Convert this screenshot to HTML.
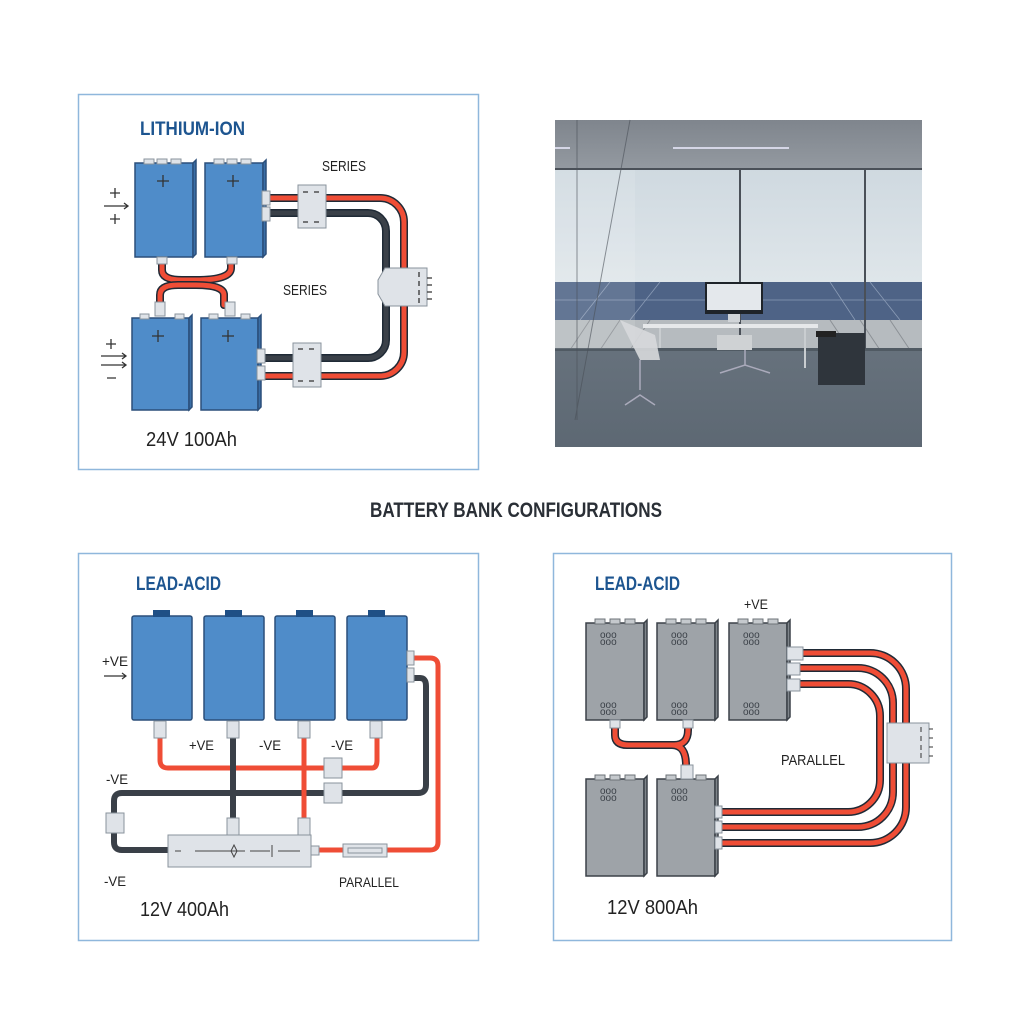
<!DOCTYPE html>
<html><head><meta charset="utf-8"><style>
html,body{margin:0;padding:0;background:#fff}
svg{display:block}
text{font-family:"Liberation Sans",sans-serif}
</style></head><body>
<svg width="1024" height="1024" viewBox="0 0 1024 1024" xmlns="http://www.w3.org/2000/svg">
<defs>
<linearGradient id="sky" x1="0" y1="0" x2="0" y2="1"><stop offset="0" stop-color="#cfd9e0"/><stop offset="1" stop-color="#dfe6ea"/></linearGradient>
<linearGradient id="floor" x1="0" y1="0" x2="0" y2="1"><stop offset="0" stop-color="#7d8893"/><stop offset="1" stop-color="#5d6873"/></linearGradient>
<linearGradient id="ceil" x1="0" y1="0" x2="0" y2="1"><stop offset="0" stop-color="#7f858d"/><stop offset="1" stop-color="#949aa1"/></linearGradient>
</defs>
<rect width="1024" height="1024" fill="#fff"/>

<rect x="78.5" y="94.5" width="400" height="375" fill="#fff" stroke="#8fb7dc" stroke-width="1.5"/>
<rect x="78.5" y="553.5" width="400" height="387" fill="#fff" stroke="#8fb7dc" stroke-width="1.5"/>
<rect x="553.5" y="553.5" width="398" height="387" fill="#fff" stroke="#8fb7dc" stroke-width="1.5"/>

<!-- ========== LITHIUM-ION ========== -->
<text x="140" y="135" font-size="19" font-weight="bold" fill="#1d5590" textLength="105" lengthAdjust="spacingAndGlyphs">LITHIUM-ION</text>
<text x="322" y="171" font-size="15" fill="#222" textLength="44" lengthAdjust="spacingAndGlyphs">SERIES</text>
<text x="283" y="295" font-size="15" fill="#222" textLength="44" lengthAdjust="spacingAndGlyphs">SERIES</text>
<text x="146" y="446" font-size="20" fill="#222" textLength="91" lengthAdjust="spacingAndGlyphs">24V 100Ah</text>
<g stroke="#333" stroke-width="1.3" fill="none">
<path d="M110 193h10M115 188v10M110 219h10M115 214v10"/>
<path d="M104 206h24M124 203l4 3-4 3"/>
<path d="M106 344h10M111 339v10M107 378h9"/>
<path d="M101 356h25M122 353l4 3-4 3M101 365h25M122 362l4 3-4 3"/>
</g>
<g fill="none" stroke-linecap="round">
<path d="M265 198H380a24 24 0 0 1 24 24V352a24 24 0 0 1-24 24H265" stroke="#1f2a36" stroke-width="8"/>
<path d="M265 198H380a24 24 0 0 1 24 24V352a24 24 0 0 1-24 24H265" stroke="#ef4d36" stroke-width="5"/>
<path d="M265 213H368a18 18 0 0 1 18 18V340a18 18 0 0 1-18 18H265" stroke="#1f2a36" stroke-width="8"/>
<path d="M265 213H368a18 18 0 0 1 18 18V340a18 18 0 0 1-18 18H265" stroke="#3a4048" stroke-width="5"/>
<path d="M162 262v8q0 10 20 10h14q35 0 35 -12v-8" stroke="#1f2a36" stroke-width="8"/>
<path d="M162 262v8q0 10 20 10h14q35 0 35 -12v-8" stroke="#ef4d36" stroke-width="5"/>
<path d="M160 305v-10q0-10 18-10h18q28 0 28 10v10" stroke="#1f2a36" stroke-width="8"/>
<path d="M160 305v-10q0-10 18-10h18q28 0 28 10v10" stroke="#ef4d36" stroke-width="5"/>
</g>
<g stroke="#2b4f7a" stroke-width="1.5">
<rect x="135" y="163" width="58" height="94" fill="#4f8cc9"/>
<path d="M193 163l3-3v94l-3 3z" fill="#3a6ea6"/>
<rect x="205" y="163" width="58" height="94" fill="#4f8cc9"/>
<path d="M263 163l3-3v94l-3 3z" fill="#3a6ea6"/>
<rect x="132" y="318" width="57" height="92" fill="#4f8cc9"/>
<path d="M189 318l3-3v92l-3 3z" fill="#3a6ea6"/>
<rect x="201" y="318" width="57" height="92" fill="#4f8cc9"/>
<path d="M258 318l3-3v92l-3 3z" fill="#3a6ea6"/>
</g>
<g fill="#dfe3e8" stroke="#8a939c" stroke-width="1">
<rect x="144" y="159" width="10" height="5"/><rect x="157" y="159" width="10" height="5"/><rect x="171" y="159" width="10" height="5"/>
<rect x="214" y="159" width="10" height="5"/><rect x="227" y="159" width="10" height="5"/><rect x="241" y="159" width="10" height="5"/>
<rect x="140" y="314" width="9" height="5"/><rect x="175" y="314" width="9" height="5"/>
<rect x="209" y="314" width="9" height="5"/><rect x="241" y="314" width="9" height="5"/>
<rect x="157" y="257" width="10" height="7"/><rect x="227" y="257" width="10" height="7"/>
<rect x="155" y="302" width="10" height="14"/><rect x="225" y="302" width="10" height="14"/>
<rect x="262" y="191" width="8" height="14"/><rect x="262" y="207" width="8" height="14"/>
<rect x="257" y="349" width="8" height="14"/><rect x="257" y="366" width="8" height="14"/>
<rect x="298" y="185" width="28" height="43"/>
<rect x="293" y="343" width="28" height="44"/>
<path d="M385 268h42v38h-42l-7-12v-14z"/>
</g>
<g stroke="#333" stroke-width="1.3">
<path d="M157 181h12M163 175v12M227 181h12M233 175v12M152 336h12M158 330v12M222 336h12M228 330v12"/>
<path d="M303 192h5M314 192h5M303 222h5M314 222h5M298 349h5M309 349h5M298 381h5M309 381h5"/>
<path d="M419 272v5M419 281v5M419 290v5M419 298v5M427 278h5M427 285h5M427 292h5M427 299h5"/>
</g>

<!-- ========== PHOTO ========== -->
<rect x="555" y="120" width="367" height="327" fill="url(#floor)"/>
<rect x="555" y="120" width="367" height="50" fill="url(#ceil)"/>
<rect x="555" y="169" width="367" height="114" fill="url(#sky)"/>
<path d="M555 282H922V320H555z" fill="#4e6386"/>
<g stroke="#8a9bb5" stroke-width="0.8"><path d="M555 300H922M610 282l-30 38M660 282l-30 38M830 282l25 38M870 282l30 38"/></g>
<rect x="555" y="320" width="367" height="30" fill="#b6bbbf"/>
<g stroke="#8c9196" stroke-width="1"><path d="M570 350l20-30M600 350l20-30M630 350l20-30M830 320l20 30M860 320l20 30M890 320l20 30"/></g>
<rect x="555" y="348" width="367" height="3" fill="#505a63"/>
<rect x="555" y="169" width="80" height="180" fill="#ffffff" opacity="0.12"/>
<g stroke="#4a5058" stroke-width="2"><path d="M740 169v180M865 169v180M555 169h367"/><path d="M577 120v300M630 120l-55 300" stroke-width="1" opacity="0.6"/></g>
<path d="M673 148h116M555 148h15" stroke="#eef" stroke-width="1.5"/>
<rect x="705" y="282" width="58" height="32" fill="#1e2329"/><rect x="707" y="284" width="54" height="26" fill="#e4e8ec"/>
<rect x="728" y="314" width="12" height="8" fill="#d0d4d8"/>
<path d="M643 324h175v4H643z" fill="#e6e8ea"/>
<path d="M805 328v40M660 328v20" stroke="#c9cdd0" stroke-width="2"/>
<rect x="818" y="333" width="47" height="52" fill="#2f353c"/>
<rect x="816" y="331" width="20" height="6" fill="#222"/>
<path d="M620 320l20 40h20l-5-25z" fill="#d7d9db" opacity="0.9"/>
<path d="M640 360v30M625 405l15-10 15 10M745 350v15M720 373l25-8 25 8" stroke="#aab" stroke-width="1.5" fill="none"/>
<rect x="717" y="335" width="35" height="15" fill="#cfd2d4"/>

<!-- ========== TITLE ========== -->
<text x="370" y="517" font-size="21" font-weight="bold" fill="#2a2f36" textLength="292" lengthAdjust="spacingAndGlyphs">BATTERY BANK CONFIGURATIONS</text>

<!-- ========== LEAD-ACID LEFT ========== -->
<text x="136" y="590" font-size="19" font-weight="bold" fill="#1d5590" textLength="85" lengthAdjust="spacingAndGlyphs">LEAD-ACID</text>
<text x="102" y="666" font-size="14" fill="#222" textLength="26" lengthAdjust="spacingAndGlyphs">+VE</text>
<path d="M104 676h22M122 673l4 3-4 3" stroke="#333" stroke-width="1.2" fill="none"/>
<text x="189" y="750" font-size="14" fill="#222" textLength="25" lengthAdjust="spacingAndGlyphs">+VE</text>
<text x="259" y="750" font-size="14" fill="#222" textLength="22" lengthAdjust="spacingAndGlyphs">-VE</text>
<text x="331" y="750" font-size="14" fill="#222" textLength="22" lengthAdjust="spacingAndGlyphs">-VE</text>
<text x="106" y="784" font-size="14" fill="#222" textLength="22" lengthAdjust="spacingAndGlyphs">-VE</text>
<text x="104" y="886" font-size="14" fill="#222" textLength="22" lengthAdjust="spacingAndGlyphs">-VE</text>
<text x="339" y="887" font-size="14" fill="#222" textLength="60" lengthAdjust="spacingAndGlyphs">PARALLEL</text>
<text x="140" y="916" font-size="20" fill="#222" textLength="89" lengthAdjust="spacingAndGlyphs">12V 400Ah</text>
<g fill="none">
<path d="M160 738v22q0 8 8 8H372q5 0 5-8v-22" stroke="#ef4d36" stroke-width="5"/>
<path d="M412 678h8q6 0 6 8V785q0 8-8 8H122q-8 0-8 8V842q0 8 8 8H170" stroke="#3a4048" stroke-width="6"/>
<path d="M233 738v100" stroke="#3a4048" stroke-width="6"/>
<path d="M304 738v100" stroke="#ef4d36" stroke-width="5"/>
<path d="M412 658h18q8 0 8 8V842q0 8-8 8H312" stroke="#ef4d36" stroke-width="5"/>
</g>
<g stroke="#2b4f7a" stroke-width="1.5" fill="#4f8cc9">
<rect x="132" y="616" width="60" height="104" rx="2"/>
<rect x="204" y="616" width="60" height="104" rx="2"/>
<rect x="275" y="616" width="60" height="104" rx="2"/>
<rect x="347" y="616" width="60" height="104" rx="2"/>
</g>
<g fill="#1f4f85"><rect x="153" y="610" width="17" height="7"/><rect x="225" y="610" width="17" height="7"/><rect x="296" y="610" width="17" height="7"/><rect x="368" y="610" width="17" height="7"/></g>
<g fill="#dfe3e8" stroke="#8a939c" stroke-width="1">
<rect x="154" y="721" width="12" height="17"/><rect x="227" y="721" width="12" height="17"/><rect x="298" y="721" width="12" height="17"/><rect x="370" y="721" width="12" height="17"/>
<rect x="407" y="651" width="7" height="14"/><rect x="407" y="668" width="7" height="14"/>
<rect x="324" y="758" width="18" height="20"/><rect x="324" y="783" width="18" height="20"/>
<rect x="106" y="813" width="18" height="20"/>
<rect x="227" y="818" width="12" height="18"/><rect x="298" y="818" width="12" height="18"/>
<rect x="168" y="835" width="143" height="32"/>
<rect x="311" y="846" width="8" height="9"/>
<rect x="343" y="844" width="44" height="13"/><rect x="348" y="848" width="34" height="5"/>
</g>
<path d="M175 851h6M195 851h50M250 851h20M278 851h22M272 845v12M234 845l3 6-3 6-3-6z" stroke="#444" stroke-width="1" fill="none"/>

<!-- ========== LEAD-ACID RIGHT ========== -->
<text x="595" y="590" font-size="19" font-weight="bold" fill="#1d5590" textLength="85" lengthAdjust="spacingAndGlyphs">LEAD-ACID</text>
<text x="744" y="609" font-size="14" fill="#222" textLength="24" lengthAdjust="spacingAndGlyphs">+VE</text>
<text x="781" y="765" font-size="15" fill="#222" textLength="64" lengthAdjust="spacingAndGlyphs">PARALLEL</text>
<text x="607" y="914" font-size="20" fill="#222" textLength="91" lengthAdjust="spacingAndGlyphs">12V 800Ah</text>
<g fill="none" stroke="#1f2a36" stroke-width="8">
<path d="M789 653H870a36 36 0 0 1 36 36V807a36 36 0 0 1-36 36H717"/>
<path d="M789 668H858a35 35 0 0 1 35 35V792a35 35 0 0 1-35 35H717"/>
<path d="M789 684H848a32 32 0 0 1 32 32V780a32 32 0 0 1-32 32H717"/>
<path d="M615 720v15q0 10 12 10h45q14 0 14 20v12M688 720v10q0 15-14 15h-45q-14 0-14-10"/>
</g>
<g fill="none" stroke="#ef4d36" stroke-width="5">
<path d="M789 653H870a36 36 0 0 1 36 36V807a36 36 0 0 1-36 36H717"/>
<path d="M789 668H858a35 35 0 0 1 35 35V792a35 35 0 0 1-35 35H717"/>
<path d="M789 684H848a32 32 0 0 1 32 32V780a32 32 0 0 1-32 32H717"/>
<path d="M615 720v15q0 10 12 10h45q14 0 14 20v12M688 720v10q0 15-14 15h-45q-14 0-14-10"/>
</g>
<g stroke="#3b4148" stroke-width="1.5" fill="#9ea3a8">
<rect x="586" y="623" width="58" height="97"/><path d="M644 623l3-3v97l-3 3z" fill="#7f858b"/>
<rect x="657" y="623" width="58" height="97"/><path d="M715 623l3-3v97l-3 3z" fill="#7f858b"/>
<rect x="729" y="623" width="58" height="97"/><path d="M787 623l3-3v97l-3 3z" fill="#7f858b"/>
<rect x="586" y="779" width="58" height="97"/><path d="M644 779l3-3v97l-3 3z" fill="#7f858b"/>
<rect x="657" y="779" width="58" height="97"/><path d="M715 779l3-3v97l-3 3z" fill="#7f858b"/>
</g>
<g fill="#c5c9cd" stroke="#6d7378" stroke-width="1">
<rect x="595" y="619" width="10" height="5"/><rect x="610" y="619" width="10" height="5"/><rect x="625" y="619" width="10" height="5"/>
<rect x="666" y="619" width="10" height="5"/><rect x="681" y="619" width="10" height="5"/><rect x="696" y="619" width="10" height="5"/>
<rect x="738" y="619" width="10" height="5"/><rect x="753" y="619" width="10" height="5"/><rect x="768" y="619" width="10" height="5"/>
<rect x="595" y="775" width="10" height="5"/><rect x="610" y="775" width="10" height="5"/><rect x="625" y="775" width="10" height="5"/>
<rect x="666" y="775" width="10" height="5"/><rect x="696" y="775" width="10" height="5"/>
</g>
<g fill="#dfe3e8" stroke="#8a939c" stroke-width="1">
<rect x="610" y="720" width="10" height="8"/><rect x="683" y="720" width="10" height="8"/>
<rect x="681" y="765" width="12" height="14"/>
<rect x="787" y="647" width="16" height="13"/><rect x="787" y="663" width="13" height="12"/><rect x="787" y="679" width="13" height="12"/>
<rect x="715" y="806" width="7" height="12"/><rect x="715" y="821" width="7" height="12"/><rect x="715" y="837" width="7" height="12"/>
<rect x="887" y="723" width="42" height="40"/>
</g>
<g stroke="#333" stroke-width="1"><path d="M921 727v5M921 736v5M921 745v5M921 753v5M929 729h4M929 738h4M929 747h4M929 756h4"/></g>
<g font-size="10" fill="#3b4148" font-family="Liberation Sans">
<text x="600" y="638">ooo</text><text x="600" y="645">ooo</text>
<text x="671" y="638">ooo</text><text x="671" y="645">ooo</text>
<text x="743" y="638">ooo</text><text x="743" y="645">ooo</text>
<text x="600" y="708">ooo</text><text x="600" y="715">ooo</text>
<text x="671" y="708">ooo</text><text x="671" y="715">ooo</text>
<text x="743" y="708">ooo</text><text x="743" y="715">ooo</text>
<text x="600" y="794">ooo</text><text x="600" y="801">ooo</text>
<text x="671" y="794">ooo</text><text x="671" y="801">ooo</text>
</g>
</svg>
</body></html>
